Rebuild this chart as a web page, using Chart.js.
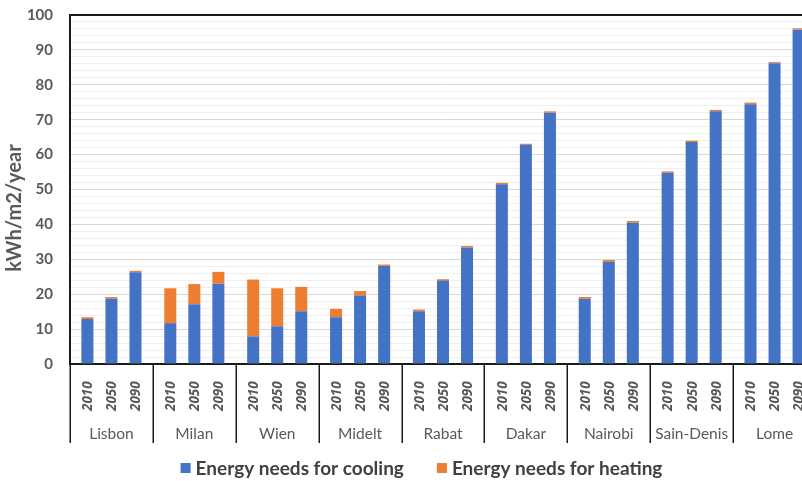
<!DOCTYPE html>
<html>
<head>
<meta charset="utf-8">
<script src="https://cdn.jsdelivr.net/npm/chart.js@4/dist/chart.umd.min.js"></script>
<style>
  html, body { margin: 0; padding: 0; background: #ffffff; overflow: hidden; }
  #wrap { width: 842px; height: 481px; }
</style>
</head>
<body>
<div id="wrap"><canvas id="c" width="842" height="481"></canvas></div>
<script>
// Cities (outer category level) and simulation years (inner level)
const cities = ['Lisbon', 'Milan', 'Wien', 'Midelt', 'Rabat', 'Dakar', 'Nairobi', 'Sain-Denis', 'Lome'];
const years = ['2010', '2050', '2090'];

// Energy needs, kWh/m2/year
const cooling2010 = [12.9, 11.7, 7.9, 13.4, 15.1, 51.5, 18.7, 54.8, 74.4];
const heating2010 = [0.5, 10.0, 16.3, 2.4, 0.5, 0.4, 0.5, 0.4, 0.5];
const cooling2050 = [18.7, 17.1, 10.8, 19.6, 23.9, 62.8, 29.3, 63.6, 86.2];
const heating2050 = [0.5, 5.8, 10.9, 1.3, 0.4, 0.3, 0.5, 0.4, 0.3];
const cooling2090 = [26.3, 23.0, 15.1, 28.1, 33.4, 72.0, 40.5, 72.4, 95.8];
const heating2090 = [0.4, 3.4, 7.0, 0.4, 0.4, 0.4, 0.5, 0.4, 0.4];

// Y axis tick labels (every 10), minor grid every 2
const yTickLabels = [0, 10, 20, 30, 40, 50, 60, 70, 80, 90, 100];
const yTitle = 'kWh/m2/year';

const seriesNames = ['Energy needs for cooling', 'Energy needs for heating'];
const COOL = '#4472C4';
const HEAT = '#ED7D31';
const FONT = 'Lato, "Open Sans", sans-serif';
const YEAR_FONT = '"Open Sans", "DejaVu Sans", sans-serif';

const coolingByYear = [cooling2010, cooling2050, cooling2090];
const heatingByYear = [heating2010, heating2050, heating2090];

const datasets = [];
years.forEach((yr, i) => {
  datasets.push({ label: seriesNames[0], data: coolingByYear[i], backgroundColor: COOL, stack: yr, year: yr, kind: 'cool' });
  datasets.push({ label: seriesNames[1], data: heatingByYear[i], backgroundColor: HEAT, stack: yr, year: yr, kind: 'heat' });
});

// Draws the two-level category axis (rotated years, city names, separators),
// the axis title, the top frame line and the legend.
const decorations = {
  id: 'decorations',
  afterDraw(chart) {
    const ctx = chart.ctx;
    const area = chart.chartArea;
    const x = chart.scales.x;
    const n = cities.length;
    const slot = x.width / n;

    ctx.save();
    // top frame line
    ctx.strokeStyle = '#1a1a1a';
    ctx.lineWidth = 2;
    ctx.beginPath();
    ctx.moveTo(area.left, area.top);
    ctx.lineTo(area.right, area.top);
    ctx.stroke();

    // group separators
    ctx.lineWidth = 1.5;
    for (let i = 0; i <= n; i++) {
      const px = Math.round(x.left + i * slot) + 0.25;
      ctx.beginPath();
      ctx.moveTo(px, area.bottom);
      ctx.lineTo(px, area.bottom + 79);
      ctx.stroke();
    }

    // year labels under each bar, rotated
    ctx.fillStyle = '#595959';
    ctx.font = 'italic bold 13.5px ' + YEAR_FONT;
    ctx.textAlign = 'left';
    ctx.textBaseline = 'middle';
    chart.data.datasets.forEach((ds, di) => {
      if (ds.kind !== 'cool') return;
      const meta = chart.getDatasetMeta(di);
      meta.data.forEach((bar) => {
        ctx.save();
        ctx.translate(bar.x + 1, area.bottom + 47);
        ctx.rotate(-Math.PI / 2);
        ctx.fillText(ds.year, 0, 0);
        ctx.restore();
      });
    });

    // city labels
    ctx.font = '15.5px ' + FONT;
    ctx.textAlign = 'center';
    cities.forEach((c, i) => {
      ctx.fillText(c, x.getPixelForValue(i), area.bottom + 70);
    });

    // y axis title
    ctx.save();
    ctx.font = 'bold 20px ' + FONT;
    ctx.translate(15, 208);
    ctx.rotate(-Math.PI / 2);
    ctx.fillText(yTitle, 0, 0);
    ctx.restore();

    // legend
    ctx.font = 'bold 19px ' + FONT;
    ctx.textAlign = 'left';
    const box = 10, gap = 5, itemGap = 33;
    const w = seriesNames.map(s => ctx.measureText(s).width);
    const total = box + gap + w[0] + itemGap + box + gap + w[1];
    let lx = 421.5 - total / 2;
    const ly = 468;
    [COOL, HEAT].forEach((col, i) => {
      ctx.fillStyle = col;
      ctx.fillRect(lx, ly - box / 2, box, box);
      ctx.fillStyle = '#404040';
      ctx.fillText(seriesNames[i], lx + box + gap, ly + 1);
      lx += box + gap + w[i] + itemGap;
    });
    ctx.restore();
  }
};

new Chart(document.getElementById('c'), {
  type: 'bar',
  data: { labels: cities, datasets },
  options: {
    responsive: false,
    animation: false,
    devicePixelRatio: 1,
    layout: { padding: { top: 15, right: 26, bottom: 117, left: 0 } },
    datasets: { bar: { barPercentage: 0.5, categoryPercentage: 0.87 } },
    plugins: { legend: { display: false }, tooltip: { enabled: false } },
    scales: {
      x: {
        stacked: true,
        grid: { display: false },
        ticks: { display: false },
        border: { display: true, color: '#1a1a1a', width: 2 },
        afterFit(s) { s.height = 0; s.paddingLeft = 0; s.paddingRight = 0; }
      },
      y: {
        stacked: true,
        min: 0,
        max: 100,
        afterFit(s) { s.width = 70; s.paddingTop = 0; s.paddingBottom = 0; },
        ticks: {
          stepSize: 2,
          autoSkip: false,
          padding: 17,
          color: '#595959',
          font: { family: FONT, size: 15, weight: 'bold' },
          callback: (v) => (yTickLabels.includes(v) ? String(v) : '')
        },
        grid: {
          drawTicks: false,
          color: (c) => (c.tick && c.tick.value % 10 === 0 ? '#d9d9d9' : '#efefef'),
          lineWidth: 1
        },
        border: { display: true, color: '#1a1a1a', width: 2 },
        title: { display: false }
      }
    }
  },
  plugins: [decorations]
});
</script>
</body>
</html>
